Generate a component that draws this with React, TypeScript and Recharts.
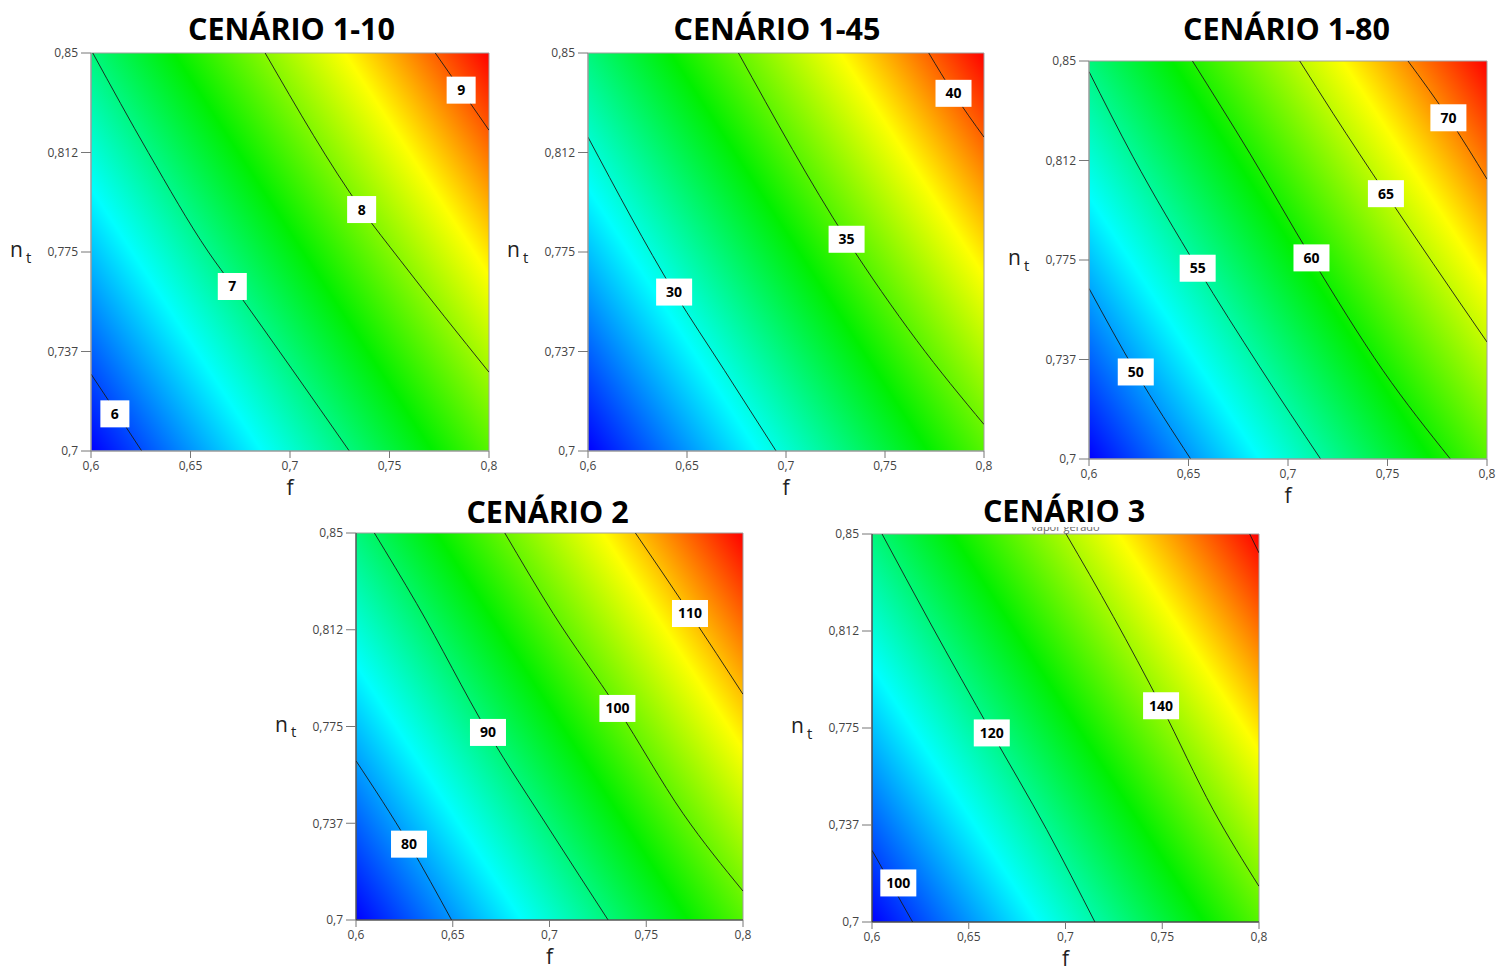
import React from 'react';
import { ComposedChart, XAxis, YAxis, Line, Scatter, ReferenceArea } from 'recharts';

const fTicks = [0.6, 0.65, 0.7, 0.75, 0.8];
const fTickLabels = ['0,6', '0,65', '0,7', '0,75', '0,8'];
const ntTicks = [0.7, 0.7375, 0.775, 0.8125, 0.85];
const ntTickLabels = ['0,7', '0,737', '0,775', '0,812', '0,85'];

// contour lines, each as [f, nt] points
const c110Lines = [
  [[0.6, 0.729], [0.6128, 0.7145], [0.6255, 0.7]],
  [[0.6009, 0.85], [0.6288, 0.8125], [0.659, 0.775], [0.6715, 0.762], [0.7298, 0.7]],
  [[0.6875, 0.85], [0.736, 0.791], [0.7554, 0.7719], [0.8, 0.7297]],
  [[0.773, 0.85], [0.7865, 0.8355], [0.8, 0.8209]],
];
const c110Labels = [
  { f: 0.612, nt: 0.714, v: '6' },
  { f: 0.671, nt: 0.762, v: '7' },
  { f: 0.736, nt: 0.791, v: '8' },
  { f: 0.786, nt: 0.836, v: '9' },
];

const c145Lines = [
  [[0.6, 0.8183], [0.6435, 0.7599], [0.6689, 0.7304], [0.695, 0.7]],
  [[0.676, 0.85], [0.7306, 0.7798], [0.766, 0.7417], [0.8, 0.71]],
  [[0.7721, 0.85], [0.7846, 0.8348], [0.8, 0.8183]],
];
const c145Labels = [
  { f: 0.6435, nt: 0.7599, v: '30' },
  { f: 0.7306, nt: 0.7798, v: '35' },
  { f: 0.7846, nt: 0.8348, v: '40' },
];

const c180Lines = [
  [[0.6, 0.7643], [0.6235, 0.7328], [0.6511, 0.7]],
  [[0.6, 0.846], [0.6221, 0.8139], [0.6546, 0.7719], [0.6858, 0.7347], [0.7164, 0.7]],
  [[0.652, 0.85], [0.6808, 0.8152], [0.7118, 0.7758], [0.7477, 0.7334], [0.7816, 0.7]],
  [[0.7059, 0.85], [0.7226, 0.8303], [0.7492, 0.8], [0.7729, 0.7737], [0.8, 0.7441]],
  [[0.7603, 0.85], [0.7806, 0.8286], [0.8, 0.8055]],
];
const c180Labels = [
  { f: 0.6235, nt: 0.7328, v: '50' },
  { f: 0.6546, nt: 0.7719, v: '55' },
  { f: 0.7118, nt: 0.7758, v: '60' },
  { f: 0.7492, nt: 0.8, v: '65' },
  { f: 0.7806, nt: 0.8286, v: '70' },
];

const c2Lines = [
  [[0.6, 0.7617], [0.6274, 0.7294], [0.6494, 0.7]],
  [[0.6095, 0.85], [0.6313, 0.8227], [0.6682, 0.7727], [0.7002, 0.7349], [0.7303, 0.7]],
  [[0.6769, 0.85], [0.7019, 0.8188], [0.7351, 0.782], [0.769, 0.7413], [0.8, 0.7112]],
  [[0.7444, 0.85], [0.7726, 0.8188], [0.8, 0.7875]],
];
const c2Labels = [
  { f: 0.6274, nt: 0.7294, v: '80' },
  { f: 0.6682, nt: 0.7727, v: '90' },
  { f: 0.7351, nt: 0.782, v: '100' },
  { f: 0.7726, nt: 0.8188, v: '110' },
];

const c3Lines = [
  [[0.6, 0.7277], [0.621, 0.7]],
  [[0.6052, 0.85], [0.6301, 0.8156], [0.6619, 0.7731], [0.6903, 0.7357], [0.7152, 0.7]],
  [[0.7003, 0.85], [0.7247, 0.8181], [0.7494, 0.7836], [0.7763, 0.7434], [0.8, 0.7138]],
  [[0.7952, 0.85], [0.8, 0.8427]],
];
const c3Labels = [
  { f: 0.6136, nt: 0.7151, v: '100' },
  { f: 0.6619, nt: 0.7731, v: '120' },
  { f: 0.7494, nt: 0.7836, v: '140' },
];

const panels = [
  { title: 'CENÁRIO 1-10', lines: c110Lines, labels: c110Labels, x: 91, y: 53, w: 398, h: 398, tdx: 1.5, tdy: 13, axis: '#9a9a9a', sub: '' },
  { title: 'CENÁRIO 1-45', lines: c145Lines, labels: c145Labels, x: 588, y: 53, w: 396, h: 398, tdx: -9, tdy: 13.5, axis: '#9a9a9a', sub: '' },
  { title: 'CENÁRIO 1-80', lines: c180Lines, labels: c180Labels, x: 1089, y: 61, w: 398, h: 398, tdx: -1.5, tdy: 21.5, axis: '#9a9a9a', sub: '' },
  { title: 'CENÁRIO 2', lines: c2Lines, labels: c2Labels, x: 356, y: 533, w: 387, h: 387, tdx: -2, tdy: 10.5, axis: '#333', sub: '' },
  { title: 'CENÁRIO 3', lines: c3Lines, labels: c3Labels, x: 872, y: 534, w: 387, h: 388, tdx: -1.5, tdy: 12.5, axis: '#222', sub: 'vapor gerado' },
];

const toPts = (c: number[][]) => c.map(([f, nt]) => ({ f, nt }));

const PanelTitle = (props: any) => {
  const { viewBox, heading, tdx, tdy, sub } = props;
  const cx = viewBox.x + viewBox.width / 2;
  return (
    <g>
      {sub ? (
        <>
          <text x={cx} y={viewBox.y - 3} textAnchor="middle" fontSize={11} fill="#666">
            {sub}
          </text>
          <rect x={cx - 60} y={viewBox.y - 30} width={120} height={23} fill="#fff" />
        </>
      ) : null}
      <text
        x={cx + tdx}
        y={viewBox.y - tdy}
        textAnchor="middle"
        fontSize={30.5}
        fontWeight={700}
        fill="#000"
      >
        {heading}
      </text>
    </g>
  );
};

const FLabel = (props: any) => {
  const { viewBox } = props;
  return (
    <text x={viewBox.x + viewBox.width / 2} y={viewBox.y + 44} textAnchor="middle" fontSize={21} fill="#222">
      f
    </text>
  );
};

const NtLabel = (props: any) => {
  const { viewBox } = props;
  const cy = viewBox.y + viewBox.height / 2;
  return (
    <text x={viewBox.x + 1} y={cy + 5} fontSize={21} fill="#222">
      <tspan>n</tspan>
      <tspan dx={3} dy={5.5} fontSize={15}>t</tspan>
    </text>
  );
};

const LabelBox = (props: any) => {
  const { cx, cy, payload } = props;
  const w = payload.v.length > 1 ? 36 : 29;
  return (
    <g>
      <rect x={cx - w / 2} y={cy - 13.5} width={w} height={27} fill="#fff" />
      <text x={cx} y={cy + 5} textAnchor="middle" fontSize={14} fontWeight={700} fill="#000">
        {payload.v}
      </text>
    </g>
  );
};

const Panel = ({ cfg, idx }: { cfg: any; idx: number }) => {
  const gid = `grad${idx}`;
  return (
    <div style={{ position: 'absolute', left: cfg.x - 82, top: cfg.y - 60 }}>
      <ComposedChart
        width={82 + cfg.w + 10}
        height={60 + cfg.h + 62}
        margin={{ top: 60, right: 10, bottom: 0, left: 0 }}
      >
        <defs>
          <linearGradient id={gid} x1="0" y1="1" x2="1.16" y2="0.246">
            <stop offset="0" stopColor="#0000ff" />
            <stop offset="0.26" stopColor="#00ffff" />
            <stop offset="0.52" stopColor="#00f000" />
            <stop offset="0.78" stopColor="#ffff00" />
            <stop offset="1" stopColor="#ff0000" />
          </linearGradient>
        </defs>
        <XAxis
          dataKey="f"
          type="number"
          domain={[0.6, 0.8]}
          ticks={fTicks}
          interval={0}
          allowDataOverflow
          tickFormatter={(v: number) => fTickLabels[fTicks.indexOf(v)]}
          height={62}
          tickSize={7}
          tickMargin={3}
          tick={{ fontSize: 12, fill: '#444' }}
          stroke={cfg.axis}
          tickLine={{ stroke: '#777' }}
          label={<FLabel />}
        />
        <YAxis
          dataKey="nt"
          type="number"
          domain={[0.7, 0.85]}
          ticks={ntTicks}
          interval={0}
          allowDataOverflow
          tickFormatter={(v: number) => ntTickLabels[ntTicks.indexOf(v)]}
          width={82}
          tickSize={10}
          tickMargin={3}
          tick={{ fontSize: 12, fill: '#444' }}
          stroke={cfg.axis}
          tickLine={{ stroke: '#777' }}
          label={<NtLabel />}
        />
        <ReferenceArea
          x1={0.6}
          x2={0.8}
          y1={0.7}
          y2={0.85}
          fill={`url(#${gid})`}
          fillOpacity={1}
          stroke="#a0a0a0"
          strokeWidth={1}
          ifOverflow="visible"
          label={<PanelTitle heading={cfg.title} tdx={cfg.tdx} tdy={cfg.tdy} sub={cfg.sub} />}
        />
        {cfg.lines.map((c: number[][], i: number) => (
          <Line
            key={i}
            data={toPts(c)}
            dataKey="nt"
            type="monotone"
            stroke="#1a1a1a"
            strokeWidth={0.9}
            dot={false}
            activeDot={false}
            isAnimationActive={false}
          />
        ))}
        <Scatter data={cfg.labels} dataKey="nt" shape={LabelBox} isAnimationActive={false} />
      </ComposedChart>
    </div>
  );
};

export default function App() {
  return (
    <div
      style={{
        position: 'absolute',
        left: 0,
        top: 0,
        width: 1497,
        height: 970,
        overflow: 'hidden',
        background: '#fff',
        fontFamily: "'Open Sans', sans-serif",
      }}
    >
      {panels.map((cfg, i) => (
        <Panel key={i} cfg={cfg} idx={i} />
      ))}
    </div>
  );
}
